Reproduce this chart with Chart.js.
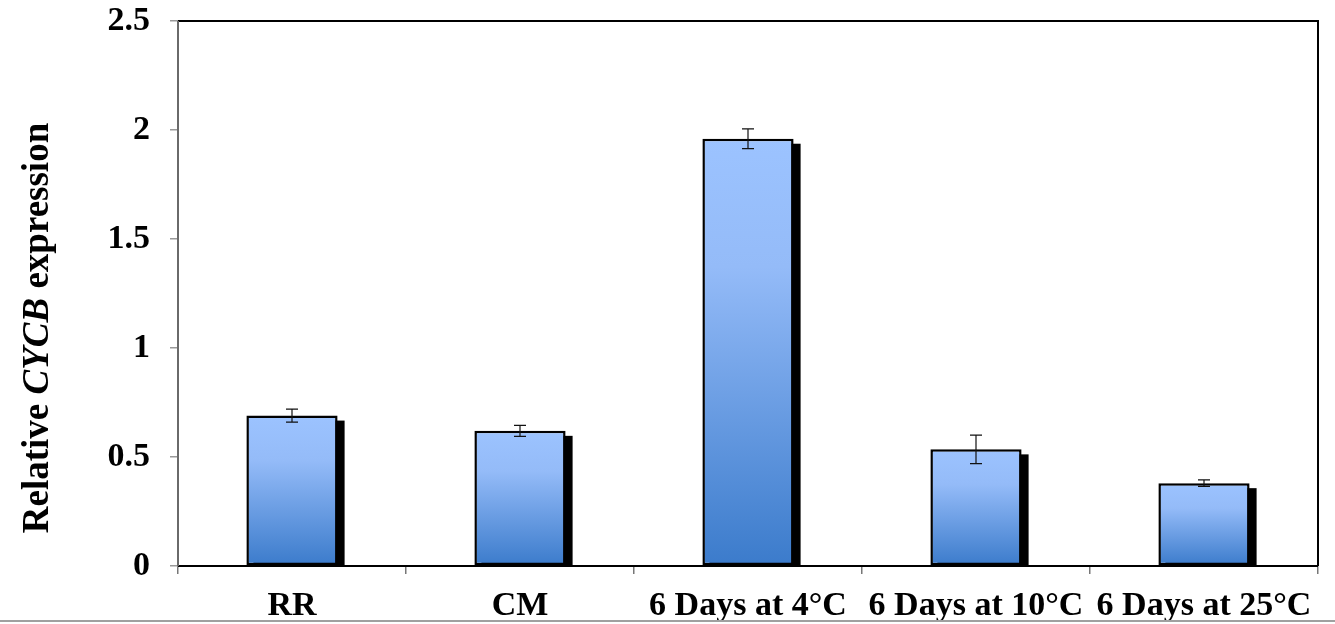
<!DOCTYPE html>
<html lang="en">
<head>
  <meta charset="UTF-8">
  <title>Relative CYCB expression</title>
  <style>
    html, body { margin: 0; padding: 0; background: #fff; }
    #wrap { width: 1335px; height: 624px; }
  </style>
  <script src="https://cdn.jsdelivr.net/npm/chart.js"></script>
</head>
<body>
  <div id="wrap"><canvas id="chart"></canvas></div>

  <script>
    // data
    const categories = ['RR', 'CM', '6 Days at 4°C', '6 Days at 10°C', '6 Days at 25°C'];
    const expression = [0.69, 0.62, 1.96, 0.535, 0.38];
    const errors     = [0.03, 0.025, 0.045, 0.065, 0.015];
    const yTicks     = [0, 0.5, 1, 1.5, 2, 2.5];

    const serif = '"Liberation Serif", "Times New Roman", serif';

    // bar fill: light blue at top, darker at the base, per bar
    function barGradient(ctx) {
      const chart = ctx.chart;
      const y = chart.scales.y;
      if (!y || ctx.dataIndex === undefined) return '#7aa8ee';
      const top = y.getPixelForValue(expression[ctx.dataIndex]);
      const bot = y.getPixelForValue(0);
      if (!isFinite(top) || !isFinite(bot) || top === bot) return '#7aa8ee';
      const g = chart.ctx.createLinearGradient(0, top, 0, bot);
      g.addColorStop(0, '#9cc3ff');
      g.addColorStop(0.3, '#94bbf8');
      g.addColorStop(1, '#3b7bcb');
      return g;
    }

    // black drop shadow behind each bar
    const shadows = {
      id: 'shadows',
      beforeDatasetsDraw(chart) {
        const c = chart.ctx;
        c.save();
        c.fillStyle = '#000';
        chart.getDatasetMeta(0).data.forEach(b => {
          const w = b.width;
          c.fillRect(b.x - w / 2 + 7, b.y + 5, w, b.base - b.y - 5);
        });
        c.restore();
      }
    };

    // error bars + frame + y title
    const extras = {
      id: 'extras',
      afterDatasetsDraw(chart) {
        const c = chart.ctx;
        const y = chart.scales.y;
        c.save();
        c.strokeStyle = '#111';
        c.lineWidth = 1.2;
        chart.getDatasetMeta(0).data.forEach((b, i) => {
          const hi = y.getPixelForValue(expression[i] + errors[i]);
          const lo = y.getPixelForValue(expression[i] - errors[i]);
          c.beginPath();
          c.moveTo(b.x, hi); c.lineTo(b.x, lo);
          c.moveTo(b.x - 6, hi); c.lineTo(b.x + 6, hi);
          c.moveTo(b.x - 6, lo); c.lineTo(b.x + 6, lo);
          c.stroke();
        });
        c.restore();
      },
      afterDraw(chart) {
        const c = chart.ctx;
        const a = chart.chartArea;
        c.save();
        // top / right / bottom frame
        c.strokeStyle = '#000';
        c.lineWidth = 2;
        c.beginPath();
        c.moveTo(a.left, a.top); c.lineTo(a.right, a.top); c.lineTo(a.right, a.bottom);
        c.moveTo(a.left, a.bottom); c.lineTo(a.right, a.bottom);
        c.stroke();
        // left axis, grey
        c.strokeStyle = '#6a6a6a';
        c.lineWidth = 2;
        c.beginPath();
        c.moveTo(a.left, a.top); c.lineTo(a.left, a.bottom);
        c.stroke();
        // grey rule at the bottom of the figure
        c.strokeStyle = '#a0a0a0';
        c.lineWidth = 2;
        c.beginPath();
        c.moveTo(0, 621); c.lineTo(chart.width, 621);
        c.stroke();

        // y title with italic gene name
        const parts = [
          ['Relative ', 'bold 37px ' + serif],
          ['CYCB', 'italic bold 37px ' + serif],
          [' expression', 'bold 37px ' + serif]
        ];
        let total = 0;
        parts.forEach(p => { c.font = p[1]; total += c.measureText(p[0]).width; });
        c.translate(38, 328);
        c.rotate(-Math.PI / 2);
        c.fillStyle = '#000';
        c.textBaseline = 'middle';
        let x = -total / 2;
        parts.forEach(p => {
          c.font = p[1];
          c.fillText(p[0], x, 0);
          x += c.measureText(p[0]).width;
        });
        c.restore();
      }
    };

    new Chart(document.getElementById('chart'), {
      type: 'bar',
      data: {
        labels: categories,
        datasets: [{
          data: expression,
          backgroundColor: barGradient,
          borderColor: '#000',
          borderWidth: 2.5,
          borderSkipped: false,
          categoryPercentage: 1,
          barPercentage: 0.4
        }]
      },
      options: {
        responsive: true,
        maintainAspectRatio: false,
        animation: false,
        events: [],
        layout: { padding: { top: 21, right: 17, left: 0, bottom: 0 } },
        plugins: {
          legend: { display: false },
          tooltip: { enabled: false }
        },
        scales: {
          x: {
            offset: true,
            border: { display: false },
            grid: {
              offset: true,
              drawOnChartArea: false,
              color: '#777',
              tickLength: 8,
              lineWidth: 1.5
            },
            ticks: {
              color: '#000',
              padding: 12,
              maxRotation: 0,
              font: { family: serif, size: 34, weight: 'bold' }
            },
            afterFit(s) { s.height = 58; s.paddingLeft = 0; s.paddingRight = 0; }
          },
          y: {
            min: 0,
            max: 2.5,
            afterBuildTicks(s) { s.ticks = yTicks.map(v => ({ value: v })); },
            border: { display: false },
            grid: {
              drawOnChartArea: false,
              color: '#999',
              tickLength: 8,
              lineWidth: 1.5
            },
            ticks: {
              color: '#000',
              padding: 20,
              callback: v => String(v),
              font: { family: serif, size: 34, weight: 'bold' }
            },
            afterFit(s) { s.width = 178; s.paddingTop = 0; s.paddingBottom = 0; }
          }
        }
      },
      plugins: [shadows, extras]
    });
  </script>
</body>
</html>
